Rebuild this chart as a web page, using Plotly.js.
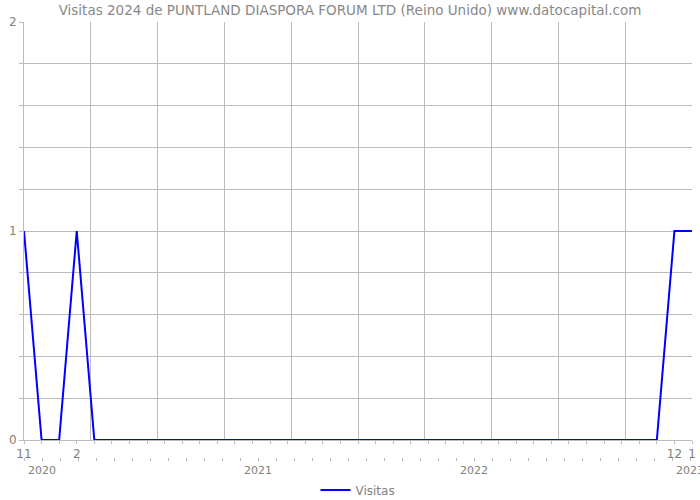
<!DOCTYPE html>
<html>
<head>
<meta charset="utf-8">
<script src="https://cdn.plot.ly/plotly-3.0.1.min.js"></script>
<style>html,body{margin:0;padding:0;background:#fff;}#chart{width:700px;height:500px;}</style>
</head>
<body>
<div id="chart"></div>
<script>
// Monthly visits, Nov 2019 .. Jan 2023
const months = ["2019-11","2019-12","2020-01","2020-02","2020-03","2020-04","2020-05","2020-06","2020-07","2020-08","2020-09","2020-10","2020-11","2020-12","2021-01","2021-02","2021-03","2021-04","2021-05","2021-06","2021-07","2021-08","2021-09","2021-10","2021-11","2021-12","2022-01","2022-02","2022-03","2022-04","2022-05","2022-06","2022-07","2022-08","2022-09","2022-10","2022-11","2022-12","2023-01"];
const visitas = [1,0,0,1,0,0,0,0,0,0,0,0,0,0,0,0,0,0,0,0,0,0,0,0,0,0,0,0,0,0,0,0,0,0,0,0,0,1,1];
const monthTickLabels = {"2019-11":"11","2020-02":"2","2022-12":"12","2023-01":"1"};
const yearLabels = ["2020","2021","2022","2023"];
const yearLabelIdx = [1,13,25,37];

const xIdx = months.map((m,i)=>i);
const n = months.length - 1;
const grey = '#bbbbbb';
const txt = '#808080';
const fontFam = 'DejaVu Sans, Verdana, sans-serif';

const trace = {
  x: xIdx, y: visitas, type: 'scatter', mode: 'lines', name: 'Visitas',
  line: {color: '#0000ff', width: 2}, xaxis: 'x', yaxis: 'y', showlegend: true
};
// invisible carriers so the overlay tick axes are drawn
const carrier2 = {x: [0, n], y: [0, 0], type: 'scatter', mode: 'none', xaxis: 'x2', yaxis: 'y',
  showlegend: false, hoverinfo: 'skip'};
const carrier3 = {x: [0, 1], y: [0, 0], type: 'scatter', mode: 'none', xaxis: 'x3', yaxis: 'y',
  showlegend: false, hoverinfo: 'skip'};

const layout = {
  width: 700, height: 500,
  margin: {l: 24, r: 8, t: 22, b: 43, pad: 0, autoexpand: false},
  paper_bgcolor: '#fff', plot_bgcolor: '#fff',
  font: {family: fontFam, size: 12, color: txt},
  title: {text: 'Visitas 2024 de PUNTLAND DIASPORA FORUM LTD (Reino Unido) www.datocapital.com',
    x: 0.5, xanchor: 'center', y: 0.979, yanchor: 'middle', yref: 'container',
    font: {family: fontFam, size: 13.5, color: '#888888'}},
  showlegend: true,
  legend: {orientation: 'h', x: 0.5, xanchor: 'center', y: -0.076, yanchor: 'middle',
    font: {size: 12, color: txt}},
  xaxis: {
    type: 'linear', range: [0, n], domain: [0, 1], anchor: 'y',
    showgrid: true, gridcolor: grey, gridwidth: 1, tick0: 0, dtick: n/10,
    showticklabels: false, ticks: '', zeroline: false,
    showline: true, linecolor: grey, linewidth: 1, fixedrange: true
  },
  xaxis2: {
    type: 'linear', range: [0, n], overlaying: 'x', anchor: 'y', side: 'bottom',
    showgrid: false, zeroline: false, showline: false, ticklabeloverflow: 'allow',
    tickmode: 'array', tickvals: xIdx, ticktext: months.map(m => monthTickLabels[m] || ''),
    ticks: 'outside', ticklen: 3, tickcolor: grey, tickfont: {size: 12, color: txt}
  },
  xaxis3: {
    type: 'linear', range: [0, 668/18], overlaying: 'x', anchor: 'free', position: 0, side: 'bottom',
    showgrid: false, zeroline: false, showline: false, ticklabeloverflow: 'allow',
    tickmode: 'array', tickvals: yearLabelIdx, ticktext: yearLabels,
    ticks: 'outside', ticklen: 3, tickcolor: grey, tickfont: {size: 11, color: txt},
    minor: {tickmode: 'linear', tick0: 0, dtick: 1, ticks: 'outside', ticklen: 3, tickcolor: grey, showgrid: false}
  },
  yaxis: {
    range: [0, 2], domain: [17/435, 1], anchor: 'x',
    tick0: 0, dtick: 1, showgrid: true, gridcolor: grey, gridwidth: 1,
    ticks: 'outside', ticklen: 4, tickcolor: grey, tickfont: {size: 12, color: txt},
    minor: {tick0: 0, dtick: 0.2, showgrid: true, gridcolor: grey, gridwidth: 1, ticks: 'outside', ticklen: 4, tickcolor: grey},
    zeroline: false, showline: true, linecolor: grey, linewidth: 1, fixedrange: true
  }
};

Plotly.newPlot('chart', [trace, carrier2, carrier3], layout, {staticPlot: true, displayModeBar: false});
</script>
</body>
</html>
